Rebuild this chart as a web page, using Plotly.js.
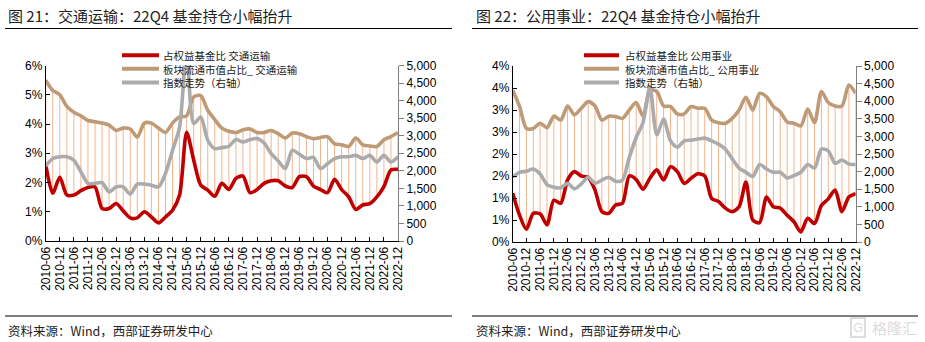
<!DOCTYPE html>
<html>
<head>
<meta charset="utf-8">
<script src="https://cdn.plot.ly/plotly-3.0.1.min.js"></script>
<style>
html,body{margin:0;padding:0;background:#fff;}
#chart{width:925px;height:342px;}
</style>
</head>
<body>
<div id="chart"></div>
<script>
// ---------------- DATA ----------------
const quarters = [
 "2010-06","2010-09","2010-12","2011-03","2011-06","2011-09","2011-12","2012-03","2012-06","2012-09","2012-12",
 "2013-03","2013-06","2013-09","2013-12","2014-03","2014-06","2014-09","2014-12","2015-03","2015-06","2015-09","2015-12",
 "2016-03","2016-06","2016-09","2016-12","2017-03","2017-06","2017-09","2017-12","2018-03","2018-06","2018-09","2018-12",
 "2019-03","2019-06","2019-09","2019-12","2020-03","2020-06","2020-09","2020-12","2021-03","2021-06","2021-09","2021-12",
 "2022-03","2022-06","2022-09","2022-12"
];
const tickLabels = [
 "2010-06","2010-12","2011-06","2011-12","2012-06","2012-12","2013-06","2013-12","2014-06","2014-12",
 "2015-06","2015-12","2016-06","2016-12","2017-06","2017-12","2018-06","2018-12","2019-06","2019-12",
 "2020-06","2020-12","2021-06","2021-12","2022-06","2022-12"
];

// Panel 1: 交通运输 (percent values, index on right axis)
const transFundShare = [2.62,1.63,2.18,1.57,1.57,1.72,1.83,1.85,1.11,1.11,1.28,1.03,0.79,0.79,1.0,0.82,0.62,0.82,1.05,1.57,3.72,2.77,1.91,1.74,1.53,1.97,1.76,2.14,2.22,1.65,1.76,1.97,2.06,2.06,1.88,1.83,2.2,2.2,1.88,1.76,1.65,2.11,1.76,1.51,1.08,1.23,1.28,1.51,1.86,2.43,2.45];
const transMktShare  = [5.5,5.15,5.0,4.6,4.4,4.28,4.12,4.08,4.03,3.96,3.78,3.86,3.83,3.55,4.03,4.03,3.86,3.71,4.03,4.24,4.28,4.93,4.97,4.47,4.15,3.86,3.75,3.71,3.8,3.83,3.71,3.71,3.78,3.67,3.52,3.69,3.67,3.57,3.5,3.54,3.57,3.32,3.29,3.23,3.52,3.29,3.25,3.23,3.46,3.57,3.71];
const transIndex     = [2130,2350,2400,2400,2300,1970,1640,1640,1660,1400,1540,1540,1335,1620,1620,1590,1540,1920,2580,3240,5500,3350,3530,2870,2630,2660,2700,2890,2820,2890,2920,2790,2490,2280,2065,2585,2470,2350,2380,2065,2200,2350,2400,2400,2440,2350,2440,2250,2440,2250,2400];

// Panel 2: 公用事业
const utilFundShare = [1.11,0.61,0.29,0.65,0.64,0.39,0.95,0.88,1.41,1.6,1.5,1.47,1.18,0.69,0.65,0.84,0.88,1.5,1.42,1.2,1.45,1.64,1.41,1.71,1.6,1.33,1.45,1.55,1.5,0.99,0.92,0.77,0.69,0.8,1.36,0.5,0.44,1.02,0.8,0.77,0.61,0.46,0.23,0.54,0.42,0.83,0.98,1.18,0.69,1.02,1.1];
const utilMktShare  = [3.45,3.08,2.58,2.58,2.7,2.6,2.86,2.77,3.09,2.89,3.04,3.19,3.09,2.77,2.86,2.85,2.81,3.0,3.17,2.86,3.45,3.42,3.09,3.08,2.91,2.91,3.08,3.04,3.04,2.77,2.71,2.7,2.81,3.0,3.29,3.0,3.38,3.3,3.08,2.96,2.73,2.7,2.64,3.02,2.71,3.42,3.17,3.09,3.09,3.57,3.38];
const utilIndex     = [1840,1980,2010,2075,1930,1630,1555,1537,1670,1510,1650,1840,1670,1760,1840,1725,1760,2405,2970,3395,4400,3045,3490,2875,2690,2875,2895,2925,2950,2875,2780,2640,2360,2100,1980,1860,2200,2075,1980,1980,1820,1885,1980,2200,2100,2640,2590,2235,2330,2215,2200];

const leftTicks1 = [0,1,2,3,4,5,6];
const leftText1  = ["0%","1%","2%","3%","4%","5%","6%"];
const leftTicks2 = [0,0.5,1,1.5,2,2.5,3,3.5,4];
const leftText2  = ["0%","1%","1%","2%","2%","3%","3%","4%","4%"];

const legend1 = ["占权益基金比 交通运输","板块流通市值占比_ 交通运输","指数走势（右轴）"];
const legend2 = ["占权益基金比 公用事业","板块流通市值占比_ 公用事业","指数走势（右轴）"];
const title1 = "图 21：交通运输：22Q4 基金持仓小幅抬升";
const title2 = "图 22：公用事业：22Q4 基金持仓小幅抬升";
const sourceText = "资料来源：Wind，西部证券研发中心";

// ---------------- STYLE ----------------
const RED = "#C00000", TAN = "#BF9A76", GRAY = "#ABABAB", HL = "#F2B48C";
const W = 925, H = 342;
const px = x => x / W;
const py = y => 1 - y / H;
const CJK = "'Noto Sans CJK SC', sans-serif";
const NUM = "'Liberation Sans', Arial, sans-serif";

function hiLo(a, b) {
  const xs = [], ys = [];
  for (let i = 0; i < quarters.length; i++) {
    xs.push(quarters[i], quarters[i], null);
    ys.push(a[i], b[i], null);
  }
  return {xs, ys};
}

function panelTraces(fund, mkt, idx, xa, ya, ya2) {
  const hl = hiLo(fund, mkt);
  const sm = 0.75;
  return [
    {type:"scatter", mode:"lines", x:hl.xs, y:hl.ys, xaxis:xa, yaxis:ya,
     line:{color:HL, width:1}, connectgaps:false, hoverinfo:"skip"},
    {type:"scatter", mode:"lines", x:quarters, y:fund, xaxis:xa, yaxis:ya,
     line:{color:RED, width:3.6, shape:"spline", smoothing:sm}},
    {type:"scatter", mode:"lines", x:quarters, y:mkt, xaxis:xa, yaxis:ya,
     line:{color:TAN, width:3.6, shape:"spline", smoothing:sm}},
    {type:"scatter", mode:"lines", x:quarters, y:idx, xaxis:xa, yaxis:ya2,
     line:{color:GRAY, width:3.6, shape:"spline", smoothing:sm}}
  ];
}

const data = [].concat(
  panelTraces(transFundShare, transMktShare, transIndex, "x", "y", "y2"),
  panelTraces(utilFundShare, utilMktShare, utilIndex, "x2", "y3", "y4")
);

const tickFont = {family: NUM, size: 12, color: "#000"};

function xAxis(d0, d1, anchor) {
  return {
    domain:[px(d0), px(d1)], anchor:anchor, type:"category",
    range:[0, quarters.length - 1], tickmode:"array", tickvals:tickLabels, ticktext:tickLabels,
    tickangle:-90, ticks:"inside", ticklen:4, tickcolor:"#000", tickwidth:1,
    showline:true, linecolor:"#000", linewidth:1, showgrid:false, zeroline:false,
    tickfont:tickFont, fixedrange:true
  };
}
function leftAxis(top, bot, anchor, vals, text, rmax) {
  return {
    domain:[py(bot), py(top)], anchor:anchor, range:[0, rmax],
    tickmode:"array", tickvals:vals, ticktext:text,
    ticks:"inside", ticklen:4, tickcolor:"#000", showline:true, linecolor:"#000", linewidth:1,
    showgrid:false, zeroline:false, tickfont:tickFont, fixedrange:true
  };
}
function rightAxis(over, anchor) {
  return {
    overlaying:over, anchor:anchor, side:"right", range:[0, 5000], dtick:500, tickformat:",d",
    ticks:"outside", ticklen:5, tickcolor:"#808080", showline:true, linecolor:"#808080", linewidth:1,
    showgrid:false, zeroline:false, tickfont:tickFont, fixedrange:true
  };
}

const shapes = [
  {type:"line", xref:"paper", yref:"paper", x0:px(5), x1:px(452), y0:py(28.5), y1:py(28.5), line:{color:"#000", width:1}},
  {type:"line", xref:"paper", yref:"paper", x0:px(472), x1:px(918), y0:py(28.5), y1:py(28.5), line:{color:"#000", width:1}},
  {type:"line", xref:"paper", yref:"paper", x0:px(5), x1:px(452), y0:py(316), y1:py(316), line:{color:"#000", width:1}},
  {type:"line", xref:"paper", yref:"paper", x0:px(472), x1:px(918), y0:py(316), y1:py(316), line:{color:"#000", width:1}}
];
const annotations = [];
const legColors = [RED, TAN, GRAY];
const LEG_SIZE = 10.5;
const legStep = LEG_SIZE * 1.3;
const legMid = 68.8;
function addLegend(x0, x1, tx, labels) {
  for (let k = 0; k < 3; k++) {
    const yy = legMid + (k - 1) * legStep;
    shapes.push({type:"line", xref:"paper", yref:"paper", x0:px(x0), x1:px(x1),
      y0:py(yy), y1:py(yy), line:{color:legColors[k], width:4}});
  }
  annotations.push({xref:"paper", yref:"paper", x:px(tx), y:py(legMid), xanchor:"left", yanchor:"middle",
    align:"left", text:labels.join("<br>"), showarrow:false, borderpad:0,
    font:{family:CJK, size:LEG_SIZE, color:"#222"}});
}
addLegend(122, 159, 162, legend1);
addLegend(584, 619, 624, legend2);

annotations.push({xref:"paper", yref:"paper", x:px(6), y:py(15), xanchor:"left", yanchor:"middle",
  text:title1, showarrow:false, font:{family:CJK, size:15, color:"#222"}});
annotations.push({xref:"paper", yref:"paper", x:px(474), y:py(15), xanchor:"left", yanchor:"middle",
  text:title2, showarrow:false, font:{family:CJK, size:15, color:"#222"}});
annotations.push({xref:"paper", yref:"paper", x:px(6), y:py(330), xanchor:"left", yanchor:"middle",
  text:sourceText, showarrow:false, font:{family:CJK, size:12.5, color:"#222"}});
annotations.push({xref:"paper", yref:"paper", x:px(474), y:py(330), xanchor:"left", yanchor:"middle",
  text:sourceText, showarrow:false, font:{family:CJK, size:12.5, color:"#222"}});
// watermark
annotations.push({xref:"paper", yref:"paper", x:px(858), y:py(327), xanchor:"center", yanchor:"middle",
  text:"G", showarrow:false, bordercolor:"#dcdcdc", borderwidth:2, borderpad:1,
  font:{family:NUM, size:13, color:"#dcdcdc"}});
annotations.push({xref:"paper", yref:"paper", x:px(870), y:py(327), xanchor:"left", yanchor:"middle",
  text:"格隆汇", showarrow:false, font:{family:CJK, size:15, color:"#dcdcdc"}});

const layout = {
  width:W, height:H, margin:{l:0, r:0, t:0, b:0}, showlegend:false,
  paper_bgcolor:"#fff", plot_bgcolor:"rgba(0,0,0,0)",
  xaxis: xAxis(45.7, 398, "y"),
  yaxis: leftAxis(65.5, 241, "x", leftTicks1, leftText1, 6),
  yaxis2: rightAxis("y", "x"),
  xaxis2: xAxis(512.7, 855.7, "y3"),
  yaxis3: leftAxis(66, 242, "x2", leftTicks2, leftText2, 4),
  yaxis4: rightAxis("y3", "x2"),
  shapes: shapes, annotations: annotations
};
layout.yaxis2.domain = layout.yaxis.domain;
layout.yaxis4.domain = layout.yaxis3.domain;

Plotly.newPlot("chart", data, layout, {staticPlot:true, displayModeBar:false});
</script>
</body>
</html>
